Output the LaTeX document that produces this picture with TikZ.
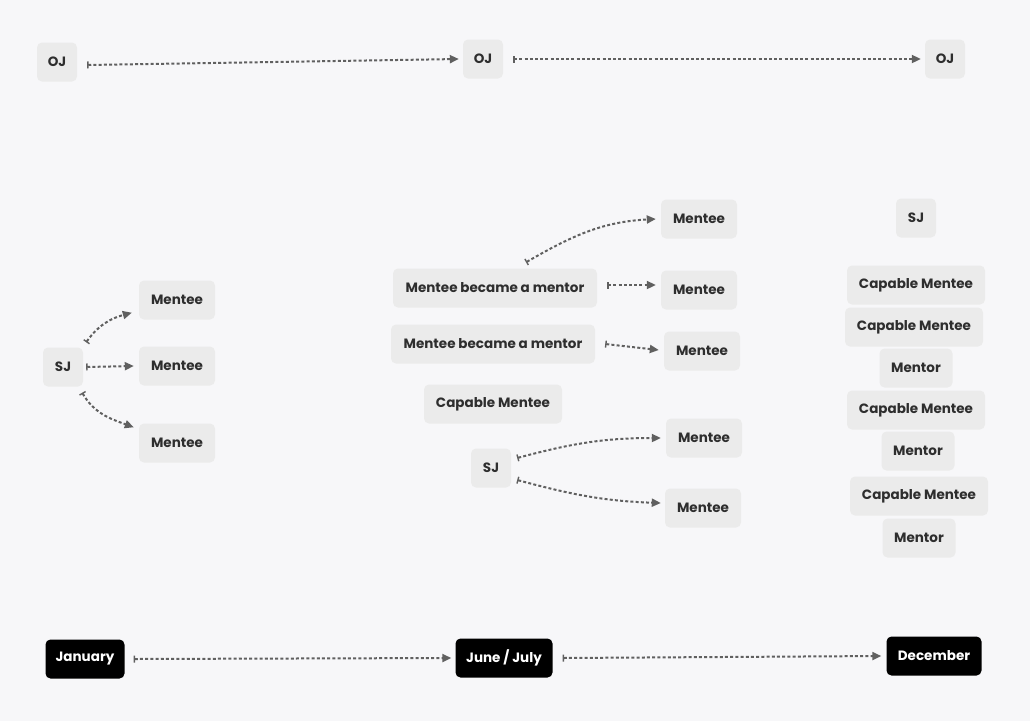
\documentclass[tikz,border=0pt]{standalone}
\usepackage{fontspec}
\setmainfont{Poppins}
\usetikzlibrary{arrows.meta}
\definecolor{bgc}{HTML}{F7F7F9}
\definecolor{boxc}{HTML}{EBEBEB}
\definecolor{txtc}{HTML}{2E2E2E}
\definecolor{arrc}{HTML}{606060}
\tikzset{
  box/.style={fill=boxc, rounded corners=5pt, minimum height=39pt, inner xsep=4pt, inner ysep=0pt,
    text=txtc, font=\fontsize{13.5}{15}\selectfont\bfseries},
  darkbox/.style={box, fill=black, text=white},
  conn/.style={draw=arrc, line width=2pt, dash pattern=on 3pt off 2.2pt,
    {Bar[width=7pt,line width=1.4pt]}-{Triangle[length=9pt,width=8pt]}},
}
\begin{document}
\begin{tikzpicture}[x=1pt,y=1pt]
\fill[bgc] (0,0) rectangle (1030,-721);
\useasboundingbox (0,0) rectangle (1030,-721);
% top row
\node[box, minimum width=40pt] (oj1) at (57,-62) {OJ};
\node[box, minimum width=40pt] (oj2) at (483,-59) {OJ};
\node[box, minimum width=40pt] (oj3) at (945,-59) {OJ};
% left group
\node[box, minimum width=40pt] (sjL) at (63,-367) {SJ};
\node[box, minimum width=76pt] (mA) at (177,-300) {Mentee};
\node[box, minimum width=76pt] (mB) at (177,-366) {Mentee};
\node[box, minimum width=76pt] (mC) at (177,-443) {Mentee};
% middle group
\node[box, minimum width=76pt] (mT) at (699,-219) {Mentee};
\node[box, minimum width=204pt] (mbm1) at (495,-288) {Mentee became a mentor};
\node[box, minimum width=76pt] (mM2) at (699,-290) {Mentee};
\node[box, minimum width=204pt] (mbm2) at (493,-344) {Mentee became a mentor};
\node[box, minimum width=76pt] (mM3) at (702,-351) {Mentee};
\node[box, minimum width=138pt] (cmM) at (493,-404) {Capable Mentee};
\node[box, minimum width=40pt] (sjM) at (491,-468) {SJ};
\node[box, minimum width=76pt] (mM4) at (704,-438) {Mentee};
\node[box, minimum width=76pt] (mM5) at (703,-508) {Mentee};
% right column
\node[box, minimum width=40pt] (sjR) at (916,-218) {SJ};
\node[box, minimum width=138pt] (cm1) at (916,-285) {Capable Mentee};
\node[box, minimum width=138pt] (cm2) at (914,-327) {Capable Mentee};
\node[box, minimum width=73pt] (mr1) at (916,-368) {Mentor};
\node[box, minimum width=138pt] (cm3) at (916,-410) {Capable Mentee};
\node[box, minimum width=73pt] (mr2) at (918,-451) {Mentor};
\node[box, minimum width=138pt] (cm4) at (919,-496) {Capable Mentee};
\node[box, minimum width=73pt] (mr3) at (919,-538) {Mentor};
% timeline
\node[darkbox, minimum width=79pt] (jan) at (85,-659) {January};
\node[darkbox, minimum width=97pt] (jun) at (504,-658) {June / July};
\node[darkbox, minimum width=95pt] (dec) at (934,-656) {December};
% connectors
\draw[conn] ([shift={(10,-3)}]oj1.east) -- ([xshift=-4]oj2.west);
\draw[conn] ([xshift=10]oj2.east) -- ([xshift=-4]oj3.west);
\draw[conn] ([shift={(3,5)}]sjL.north east) to[out=55,in=195] ([shift={(-7,7)}]mA.south west);
\draw[conn] ([xshift=3]sjL.east) -- ([xshift=-5]mB.west);
\draw[conn] ([shift={(-1,-6)}]sjL.south east) to[out=-60,in=160] ([shift={(-5,-4)}]mC.north west);
\draw[conn] ([shift={(31,6)}]mbm1.north) to[out=30,in=183] ([xshift=-5]mT.west);
\draw[conn] ([shift={(10,3)}]mbm1.east) -- ([shift={(-5,5)}]mM2.west);
\draw[conn] ([xshift=10]mbm2.east) -- ([shift={(-5,1)}]mM3.west);
\draw[conn] ([shift={(6,10)}]sjM.east) to[out=15,in=180] ([xshift=-5]mM4.west);
\draw[conn] ([shift={(6,-12)}]sjM.east) to[out=-15,in=178] ([shift={(-4,5)}]mM5.west);
\draw[conn] ([xshift=9]jan.east) -- ([xshift=-4]jun.west);
\draw[conn] ([xshift=10]jun.east) -- ([xshift=-5]dec.west);
\end{tikzpicture}
\end{document}
